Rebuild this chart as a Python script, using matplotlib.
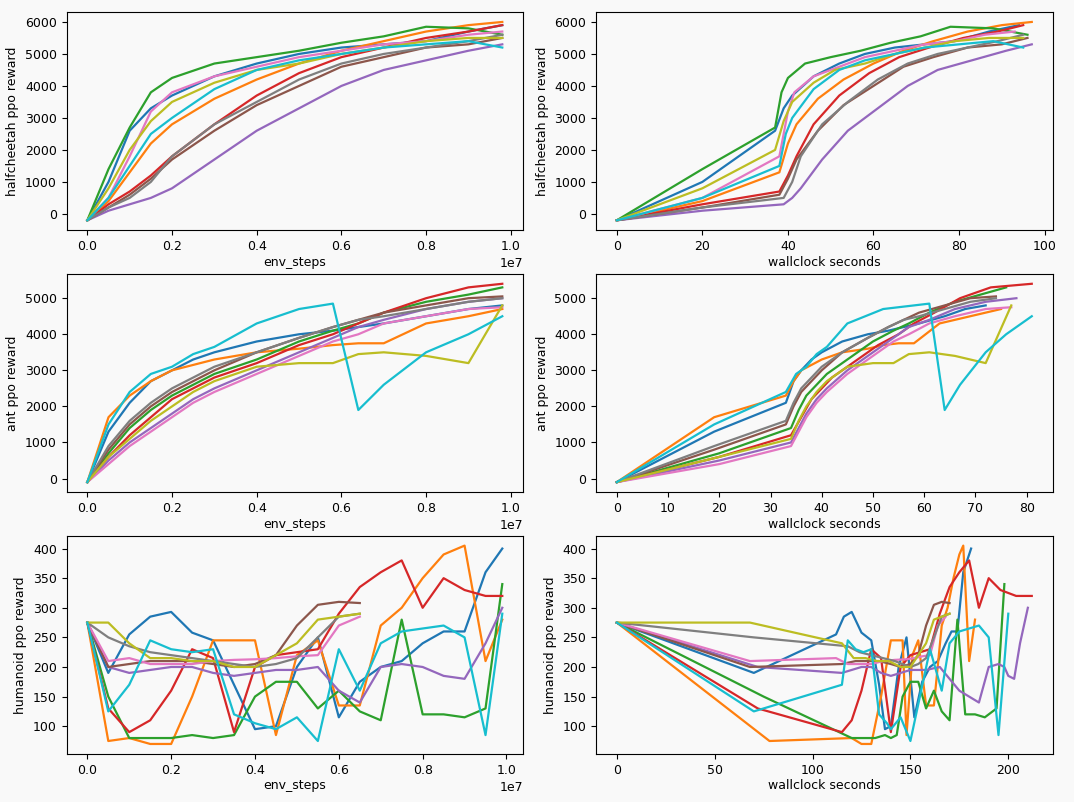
import matplotlib
matplotlib.use("Agg")
import matplotlib.pyplot as plt
import numpy as np

BG = "#f9f9f9"
plt.rcParams['font.size'] = 9

# ---------------- halfcheetah ----------------
hc_steps = [0, 0.5e6, 1e6, 1.5e6, 2e6, 3e6, 4e6, 5e6, 6e6, 7e6, 8e6, 9e6, 9.8e6]
hc_reward = [
    [-200, 1000, 2600, 3300, 3700, 4300, 4700, 5000, 5200, 5300, 5400, 5700, 5900],
    [-200, 400, 1300, 2200, 2800, 3600, 4200, 4700, 5100, 5400, 5700, 5900, 6000],
    [-200, 1400, 2700, 3800, 4250, 4700, 4900, 5100, 5350, 5550, 5850, 5800, 5600],
    [-200, 300, 700, 1200, 1800, 2800, 3700, 4400, 4900, 5200, 5500, 5700, 5900],
    [-200, 100, 300, 500, 800, 1700, 2600, 3300, 4000, 4500, 4800, 5100, 5300],
    [-200, 200, 600, 1100, 1700, 2600, 3400, 4000, 4600, 4900, 5200, 5300, 5500],
    [-200, 500, 1800, 3200, 3800, 4300, 4600, 4900, 5100, 5300, 5400, 5600, 5700],
    [-200, 200, 500, 1000, 1800, 2800, 3500, 4200, 4700, 5000, 5200, 5400, 5600],
    [-200, 800, 2000, 2900, 3500, 4100, 4500, 4700, 5000, 5200, 5400, 5500, 5500],
    [-200, 500, 1500, 2500, 3000, 3900, 4500, 4800, 5000, 5200, 5300, 5400, 5200],
]
hc_time = [
    [0, 20, 37, 39, 41, 46, 52, 58, 65, 72, 79, 87, 94],
    [0, 20, 38, 40, 42, 47, 53, 60, 67, 74, 82, 90, 97],
    [0, 20, 37, 38.5, 40, 44, 50, 57, 64, 71, 78, 88, 96],
    [0, 20, 38, 40, 42, 46, 52, 59, 66, 73, 81, 89, 95],
    [0, 20, 39, 41, 43, 48, 54, 61, 68, 75, 83, 91, 97],
    [0, 20, 38, 40, 42, 47, 53, 60, 67, 74, 82, 90, 96],
    [0, 20, 38, 40, 41.5, 46, 52, 58, 65, 72, 79, 86, 93],
    [0, 20, 39, 41, 43, 48, 54, 61, 68, 75, 82, 89, 95],
    [0, 20, 37, 39, 41, 46, 51, 58, 65, 72, 79, 87, 95],
    [0, 20, 38, 39.5, 41, 46, 52, 58, 65, 72, 80, 88, 95],
]

# ---------------- ant ----------------
ant_steps = [0, 0.5e6, 1e6, 1.5e6, 2e6, 2.5e6, 3e6, 4e6, 5e6, 5.8e6, 6.4e6, 7e6, 8e6, 9e6, 9.8e6]
ant_reward = [
    [-100, 1300, 2100, 2700, 3000, 3300, 3500, 3800, 4000, 4100, 4200, 4300, 4500, 4700, 4800],
    [-100, 1700, 2300, 2700, 3000, 3150, 3300, 3500, 3600, 3700, 3750, 3750, 4300, 4500, 4700],
    [-100, 700, 1400, 1900, 2300, 2600, 2900, 3300, 3800, 4100, 4300, 4600, 4900, 5100, 5300],
    [-100, 600, 1200, 1700, 2200, 2500, 2800, 3200, 3700, 4000, 4300, 4600, 5000, 5300, 5400],
    [-100, 500, 1000, 1400, 1800, 2200, 2500, 3000, 3500, 3900, 4200, 4400, 4700, 4900, 5000],
    [-100, 800, 1500, 2000, 2400, 2700, 3000, 3500, 3900, 4200, 4400, 4600, 4800, 5000, 5050],
    [-100, 400, 900, 1300, 1700, 2100, 2400, 2900, 3400, 3800, 4000, 4300, 4500, 4700, 4750],
    [-100, 900, 1600, 2100, 2500, 2800, 3100, 3500, 3900, 4200, 4400, 4500, 4700, 4900, 5000],
    [-100, 600, 1100, 1600, 2000, 2400, 2700, 3100, 3200, 3200, 3450, 3500, 3400, 3200, 4800],
    [-100, 1500, 2400, 2900, 3100, 3450, 3650, 4300, 4700, 4850, 1900, 2600, 3500, 4000, 4500],
]
ant_time = [
    [0, 19, 33, 34.5, 36, 38, 40, 44, 49, 53, 56, 59, 64, 68, 72],
    [0, 19, 33, 34.5, 36, 38, 40, 44, 49, 52, 55, 58, 63, 69, 75],
    [0, 20, 34, 35.5, 37, 39, 41, 45, 50, 54, 57, 61, 66, 71, 76],
    [0, 20, 34, 36, 38, 40, 42, 46, 51, 55, 58, 62, 67, 73, 81],
    [0, 20, 34, 35.5, 37, 39, 41, 45, 50, 54, 57, 61, 66, 72, 78],
    [0, 19, 33, 34.5, 36, 38, 40, 44, 49, 53, 56, 59, 64, 69, 74],
    [0, 20, 34, 35.5, 37, 39, 41, 45, 50, 54, 57, 61, 66, 72, 77],
    [0, 19, 33, 34.5, 36, 38, 40, 44, 49, 53, 56, 59, 64, 69, 74],
    [0, 20, 34, 35.5, 37, 39, 41, 45, 50, 54, 57, 61, 66, 72, 77],
    [0, 19, 33, 35, 37, 39, 41, 45, 52, 61, 64, 67, 72, 76, 81],
]

# ---------------- humanoid ----------------
hu_steps_long = [0, 0.5e6, 1e6, 1.5e6, 2e6, 2.5e6, 3e6, 3.5e6, 4e6, 4.5e6, 5e6, 5.5e6, 6e6,
                 6.5e6, 7e6, 7.5e6, 8e6, 8.5e6, 9e6, 9.5e6, 9.9e6]
hu_reward = [
    [275, 190, 255, 285, 293, 258, 245, 170, 95, 100, 200, 250, 115, 175, 200, 210, 240, 260, 260, 360, 400],
    [275, 75, 80, 70, 70, 150, 245, 245, 245, 85, 220, 245, 135, 135, 270, 300, 350, 390, 405, 210, 280],
    [275, 150, 80, 80, 80, 85, 80, 85, 150, 175, 175, 130, 160, 125, 110, 280, 120, 120, 115, 130, 340],
    [275, 130, 90, 110, 160, 230, 215, 90, 200, 220, 225, 230, 290, 335, 360, 380, 300, 350, 330, 320, 320],
    [275, 200, 190, 195, 200, 200, 190, 185, 190, 195, 195, 200, 160, 140, 200, 205, 200, 185, 180, 240, 300],
    [275, 200, 205, 210, 210, 210, 205, 200, 205, 220, 270, 305, 310, 308],
    [275, 210, 215, 205, 205, 205, 210, 212, 213, 215, 218, 220, 270, 285],
    [275, 250, 235, 225, 220, 215, 210, 205, 200, 205, 215, 250, 285, 290],
    [275, 275, 240, 215, 215, 210, 210, 200, 200, 220, 240, 280, 285, 290],
    [275, 125, 170, 245, 230, 225, 230, 120, 105, 95, 115, 75, 230, 160, 240, 260, 265, 270, 250, 85, 290],
]
hu_time = [
    [0, 70, 112, 116, 120, 125, 130, 134, 137, 140, 144, 148, 152, 156, 160, 164, 168, 171, 174, 177, 181],
    [0, 78, 120, 125, 130, 135, 140, 143, 146, 148, 151, 154, 158, 162, 166, 169, 172, 175, 177, 180, 183],
    [0, 75, 120, 126, 132, 137, 140, 143, 146, 150, 154, 158, 162, 166, 170, 174, 178, 183, 188, 194, 198],
    [0, 72, 115, 120, 125, 130, 135, 140, 145, 150, 155, 160, 165, 170, 175, 180, 185, 190, 196, 204, 212],
    [0, 72, 115, 120, 125, 130, 135, 140, 145, 150, 158, 165, 175, 185, 190, 195, 198, 200, 203, 206, 210],
    [0, 68, 115, 122, 128, 134, 140, 145, 150, 154, 158, 162, 166, 170],
    [0, 68, 112, 118, 124, 130, 136, 142, 148, 152, 156, 160, 164, 168],
    [0, 70, 118, 124, 130, 136, 142, 146, 150, 154, 158, 162, 166, 170],
    [0, 68, 115, 121, 127, 133, 139, 145, 150, 154, 158, 162, 166, 170],
    [0, 70, 115, 118, 122, 126, 130, 134, 138, 140, 145, 150, 160, 166, 170, 175, 180, 185, 190, 195, 200],
]

colors = plt.rcParams['axes.prop_cycle'].by_key()['color']

fig, axes = plt.subplots(3, 2, figsize=(10.74, 8.02), dpi=100, facecolor=BG)

def draw(ax, xs_list, ys_list, xlabel, ylabel):
    ax.set_facecolor(BG)
    for i, (xs, ys) in enumerate(zip(xs_list, ys_list)):
        ax.plot(xs[:len(ys)], ys, color=colors[i % 10], lw=1.6)
    ax.set_xlabel(xlabel, labelpad=2)
    ax.set_ylabel(ylabel)

draw(axes[0, 0], [hc_steps] * len(hc_reward), hc_reward, "env_steps", "halfcheetah ppo reward")
draw(axes[0, 1], hc_time, hc_reward, "wallclock seconds", "halfcheetah ppo reward")
draw(axes[1, 0], [ant_steps] * len(ant_reward), ant_reward, "env_steps", "ant ppo reward")
draw(axes[1, 1], ant_time, ant_reward, "wallclock seconds", "ant ppo reward")
draw(axes[2, 0], [hu_steps_long] * len(hu_reward), hu_reward, "env_steps", "humanoid ppo reward")
draw(axes[2, 1], hu_time, hu_reward, "wallclock seconds", "humanoid ppo reward")

for ax in axes[:, 0]:
    ax.set_xticks([0, 2e6, 4e6, 6e6, 8e6, 1e7])

fig.subplots_adjust(left=0.062, right=0.98, top=0.985, bottom=0.06, wspace=0.16, hspace=0.2)
fig.savefig("out.png", facecolor=BG)
